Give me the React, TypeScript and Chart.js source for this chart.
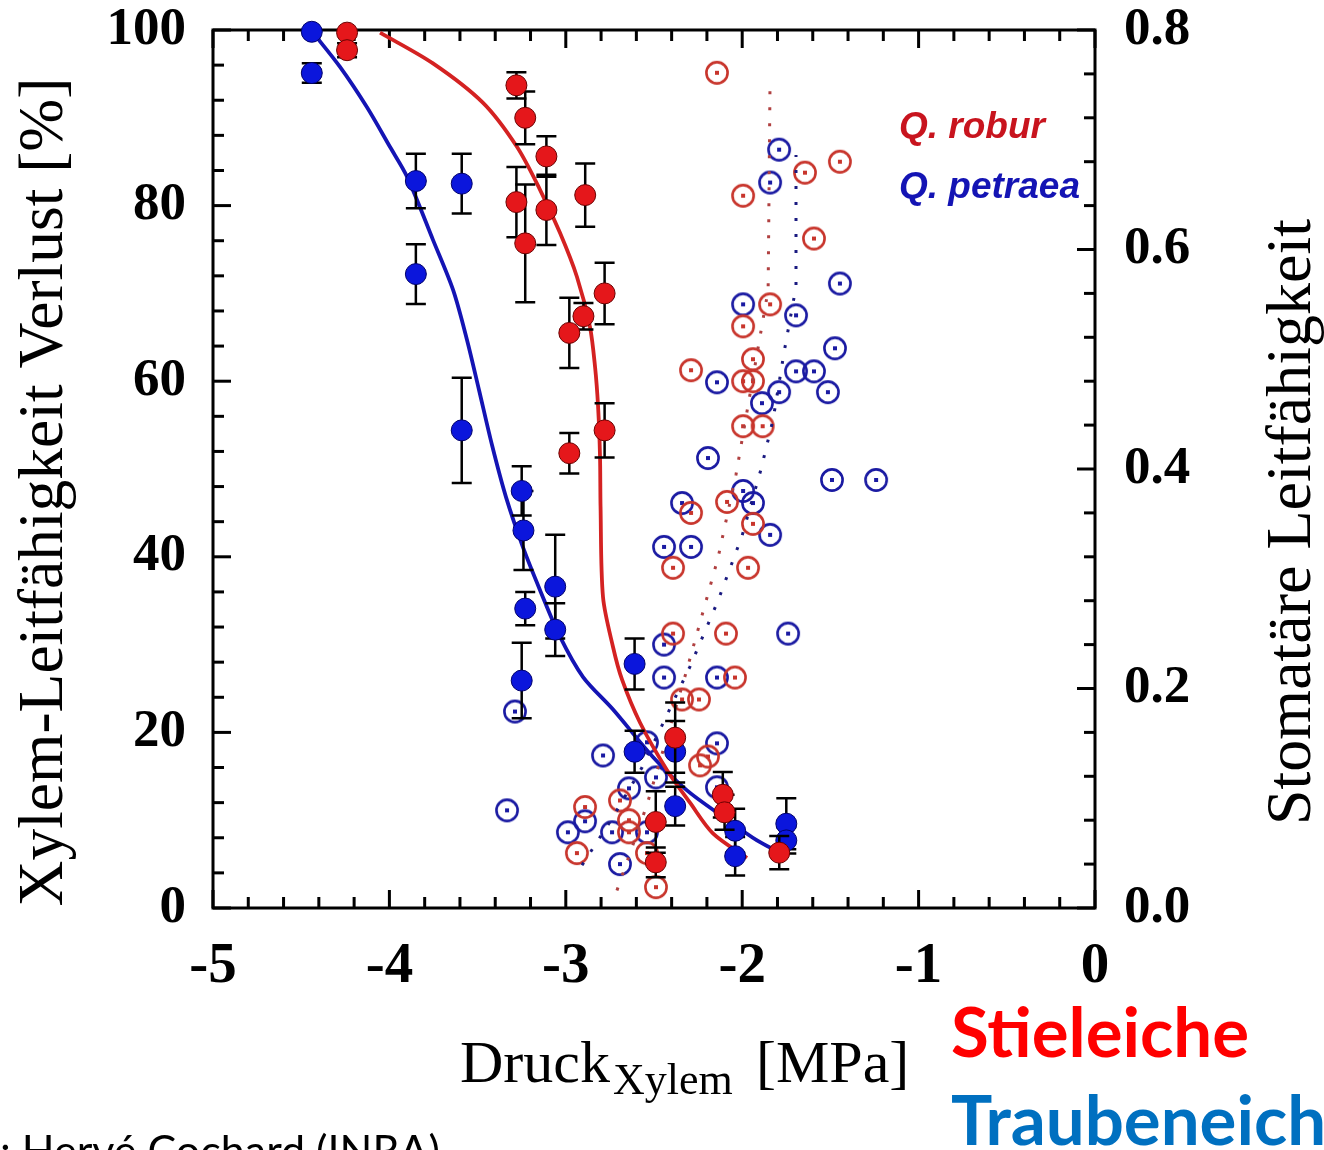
import React, { useEffect, useRef } from "react";
import { Chart, registerables } from "chart.js";

Chart.register(...registerables);

// ---------- Data ----------
// Xylem pressure (MPa) and loss of xylem conductivity (%), with error (±%)
const roburPlcX = [-4.24, -4.24, -3.28, -3.23, -3.11, -3.28, -2.89, -3.11, -3.23, -2.78, -2.9, -2.98, -2.78, -2.98, -2.38, -2.49, -2.49, -2.11, -2.1, -1.79];
const roburPlcY = [99.7, 97.7, 93.7, 90.0, 85.6, 80.4, 81.2, 79.5, 75.7, 70.0, 67.4, 65.5, 54.4, 51.8, 19.4, 9.8, 5.2, 12.9, 10.9, 6.3];
const roburPlcErr = [0, 0.8, 1.5, 3.0, 2.3, 4.0, 3.6, 4.0, 6.7, 3.5, 1.5, 4.0, 3.1, 2.3, 4.0, 3.5, 1.7, 2.6, 2.0, 1.9];

const petraeaPlcX = [-4.44, -4.44, -3.85, -3.59, -3.85, -3.59, -3.25, -3.24, -3.23, -3.25, -3.06, -3.06, -2.61, -2.61, -2.38, -2.38, -2.04, -2.04, -1.75, -1.75];
const petraeaPlcY = [99.8, 95.1, 82.8, 82.5, 72.2, 54.4, 47.5, 43.0, 34.1, 25.9, 36.6, 31.7, 27.8, 17.8, 17.8, 11.6, 8.8, 5.9, 9.6, 7.7];
const petraeaPlcErr = [0, 1.1, 3.1, 3.4, 3.4, 6.0, 2.8, 4.5, 1.9, 4.3, 5.9, 3.0, 2.9, 2.4, 3.5, 2.2, 2.5, 2.2, 2.9, 1.5];

// Fitted vulnerability curves (%)
const roburFitX = [-4.053, -3.753, -3.469, -3.277, -3.146, -3.033, -2.937, -2.863, -2.834, -2.817, -2.806, -2.803, -2.789, -2.732, -2.681, -2.579, -2.426, -2.296, -2.166, -1.973];
const roburFitY = [99.7, 96.2, 91.7, 86.7, 81.8, 76.9, 71.9, 66.2, 61.6, 57.1, 51.4, 45.7, 35.4, 29.7, 26.0, 21.1, 15.7, 12.0, 8.5, 5.7];
const petraeaFitX = [-4.433, -4.28, -4.127, -3.997, -3.9, -3.753, -3.639, -3.56, -3.492, -3.418, -3.339, -3.243, -3.146, -3.033, -2.902, -2.732, -2.506, -2.313, -2.109, -1.916, -1.786];
const petraeaFitY = [99.7, 95.8, 91.2, 86.7, 83.3, 76.1, 70.4, 64.7, 59.0, 52.7, 46.8, 41.1, 36.2, 30.9, 26.3, 22.6, 17.2, 13.4, 10.4, 7.7, 6.3];

// Stomatal conductance (right axis)
const roburGsX = [-2.143, -1.995, -1.644, -1.446, -1.593, -1.842, -1.995, -2.29, -1.939, -1.995, -1.939, -1.995, -1.884, -2.086, -2.29, -1.939, -2.392, -1.967, -2.392, -2.092, -2.041, -2.341, -2.245, -2.194, -2.239, -2.891, -2.693, -2.642, -2.642, -2.937, -2.54, -2.489];
const roburGsY = [0.761, 0.649, 0.67, 0.68, 0.61, 0.55, 0.53, 0.49, 0.5, 0.48, 0.48, 0.439, 0.439, 0.37, 0.36, 0.35, 0.31, 0.31, 0.25, 0.25, 0.21, 0.19, 0.19, 0.138, 0.13, 0.092, 0.098, 0.08, 0.069, 0.05, 0.05, 0.019];
const petraeaGsX = [-1.791, -1.842, -1.446, -1.995, -1.695, -1.474, -1.695, -1.593, -1.514, -1.791, -1.888, -2.143, -2.194, -1.491, -1.241, -1.995, -1.939, -2.341, -1.842, -2.443, -2.29, -1.74, -2.443, -2.443, -2.143, -3.288, -2.789, -2.143, -2.54, -2.489, -2.642, -2.143, -3.333, -2.891, -2.988, -2.738, -2.54, -2.693];
const petraeaGsY = [0.691, 0.661, 0.569, 0.55, 0.54, 0.51, 0.489, 0.489, 0.47, 0.47, 0.46, 0.479, 0.41, 0.39, 0.39, 0.38, 0.369, 0.369, 0.34, 0.329, 0.329, 0.25, 0.24, 0.21, 0.21, 0.179, 0.139, 0.15, 0.151, 0.119, 0.109, 0.11, 0.089, 0.079, 0.069, 0.069, 0.069, 0.04];

// Dotted conductance trend lines
const roburGsLineX = [-2.71, -2.54, -2.319, -2.137, -2.035, -1.905, -1.853, -1.842];
const roburGsLineY = [0.016, 0.094, 0.214, 0.319, 0.395, 0.515, 0.563, 0.756];
const petraeaGsLineX = [-2.908, -2.732, -2.568, -2.296, -2.137, -2.001, -1.893, -1.825, -1.763, -1.695, -1.695];
const petraeaGsLineY = [0.039, 0.083, 0.128, 0.22, 0.28, 0.339, 0.4, 0.445, 0.506, 0.566, 0.686];

// Axis ranges and labels
const xMin = -5, xMax = 0, xStep = 1, xMinorDiv = 5;
const yMin = 0, yMax = 100, yStep = 20, yMinorDiv = 5;
const y2Min = 0, y2Max = 0.8, y2Step = 0.2, y2MinorDiv = 5;
const yTitle = "Xylem-Leitfähigkeit Verlust [%]";
const y2Title = "Stomatäre Leitfähigkeit";
const xTitleMain = "Druck";
const xTitleSub = "Xylem";
const xTitleUnit = "[MPa]";
const legendRobur = "Q. robur";
const legendPetraea = "Q. petraea";
const noteRobur = "Stieleiche";
const notePetraea = "Traubeneich";
const credit = ": Hervé Cochard (INRA)";

// ---------- Styles ----------
const RED_FILL = "#e5171b";
const BLUE_FILL = "#0b16dc";
const RED_LINE = "#d42222";
const BLUE_LINE = "#1414b4";
const RED_RING = "#c8352c";
const BLUE_RING = "#1a1aa2";
const SERIF = '"Liberation Serif", "Times New Roman", serif';

const pts = (xs: number[], ys: number[]) => xs.map((x, i) => ({ x, y: ys[i] }));

function ringImage(color: string): HTMLCanvasElement {
  const c = document.createElement("canvas");
  c.width = 28;
  c.height = 28;
  const g = c.getContext("2d")!;
  g.strokeStyle = color;
  g.lineWidth = 2.6;
  g.beginPath();
  g.arc(14, 14, 10.6, 0, Math.PI * 2);
  g.stroke();
  g.fillStyle = color;
  g.fillRect(12, 12, 4, 4);
  return c;
}

const errMap: Record<number, number[]> = {};

const errorBarPlugin = {
  id: "errorBars",
  beforeDatasetDraw(chart: any, args: any) {
    const errs = errMap[args.index];
    if (!errs) return;
    const meta = chart.getDatasetMeta(args.index);
    const ys = chart.scales.y;
    const ctx = chart.ctx;
    ctx.save();
    ctx.strokeStyle = "#000";
    ctx.lineWidth = 2.5;
    meta.data.forEach((el: any, i: number) => {
      const e = errs[i];
      if (!e) return;
      const raw = chart.data.datasets[args.index].data[i];
      const top = ys.getPixelForValue(raw.y + e);
      const bot = ys.getPixelForValue(raw.y - e);
      const x = el.x;
      ctx.beginPath();
      ctx.moveTo(x, top);
      ctx.lineTo(x, bot);
      ctx.moveTo(x - 10, top);
      ctx.lineTo(x + 10, top);
      ctx.moveTo(x - 10, bot);
      ctx.lineTo(x + 10, bot);
      ctx.stroke();
    });
    ctx.restore();
  },
};

const frameTickPlugin = {
  id: "frameTicks",
  beforeDatasetsDraw(chart: any) {
    const { ctx, chartArea: a, scales } = chart;
    ctx.save();
    ctx.strokeStyle = "#000";
    ctx.lineWidth = 3;
    ctx.strokeRect(a.left, a.top, a.right - a.left, a.bottom - a.top);
    const major = 18, minor = 11;
    const nx = ((xMax - xMin) / xStep) * xMinorDiv;
    for (let i = 0; i <= nx; i++) {
      const v = xMin + (i * xStep) / xMinorDiv;
      const p = scales.x.getPixelForValue(v);
      const L = i % xMinorDiv === 0 ? major : minor;
      ctx.beginPath();
      ctx.moveTo(p, a.bottom);
      ctx.lineTo(p, a.bottom - L);
      ctx.moveTo(p, a.top);
      ctx.lineTo(p, a.top + L);
      ctx.stroke();
    }
    const ny = ((yMax - yMin) / yStep) * yMinorDiv;
    for (let i = 0; i <= ny; i++) {
      const v = yMin + (i * yStep) / yMinorDiv;
      const p = scales.y.getPixelForValue(v);
      const L = i % yMinorDiv === 0 ? major : minor;
      ctx.beginPath();
      ctx.moveTo(a.left, p);
      ctx.lineTo(a.left + L, p);
      ctx.stroke();
    }
    const ny2 = Math.round(((y2Max - y2Min) / y2Step) * y2MinorDiv);
    for (let i = 0; i <= ny2; i++) {
      const v = y2Min + (i * y2Step) / y2MinorDiv;
      const p = scales.y2.getPixelForValue(v);
      const L = i % y2MinorDiv === 0 ? major : minor;
      ctx.beginPath();
      ctx.moveTo(a.right, p);
      ctx.lineTo(a.right - L, p);
      ctx.stroke();
    }
    ctx.restore();
  },
};

const textPlugin = {
  id: "texts",
  afterDraw(chart: any) {
    const ctx = chart.ctx;
    ctx.save();
    ctx.fillStyle = "#000";
    ctx.textBaseline = "alphabetic";
    // left axis title (bottom-to-top)
    ctx.save();
    ctx.font = `63.5px ${SERIF}`;
    ctx.translate(62, 492);
    ctx.rotate(-Math.PI / 2);
    ctx.textAlign = "center";
    ctx.fillText(yTitle, 0, 0);
    ctx.restore();
    // right axis title (bottom-to-top)
    ctx.save();
    ctx.font = `64px ${SERIF}`;
    ctx.translate(1310, 522);
    ctx.rotate(-Math.PI / 2);
    ctx.textAlign = "center";
    ctx.fillText(y2Title, 0, 0);
    ctx.restore();
    // x axis title with subscript
    ctx.textAlign = "left";
    ctx.font = `60px ${SERIF}`;
    ctx.fillText(xTitleMain, 460, 1082);
    const w1 = ctx.measureText(xTitleMain).width;
    ctx.font = `44px ${SERIF}`;
    ctx.fillText(xTitleSub, 460 + w1 + 3, 1094);
    ctx.font = `60px ${SERIF}`;
    ctx.fillText(xTitleUnit, 756, 1082);
    // legend
    ctx.font = 'italic bold 37px "Liberation Sans", Arial, sans-serif';
    ctx.fillStyle = "#c8141e";
    ctx.fillText(legendRobur, 899, 138);
    ctx.fillStyle = "#1414b4";
    ctx.fillText(legendPetraea, 899, 198);
    // notes
    ctx.font = 'bold 69px Lato, "Open Sans", sans-serif';
    ctx.fillStyle = "#ff0000";
    ctx.fillText(noteRobur, 951, 1057);
    ctx.fillStyle = "#0070c0";
    ctx.fillText(notePetraea, 951, 1145);
    ctx.font = '43px Lato, "Open Sans", sans-serif';
    ctx.fillStyle = "#000";
    ctx.fillText(credit, 0, 1166);
    ctx.restore();
  },
};

export default function App() {
  const ref = useRef<HTMLCanvasElement | null>(null);
  useEffect(() => {
    if (!ref.current) return;
    const fitLine = (xs: number[], ys: number[], color: string) => ({
      type: "line",
      data: pts(xs, ys),
      yAxisID: "y",
      borderColor: color,
      borderWidth: 3.8,
      pointRadius: 0,
      tension: 0.3,
      fill: false,
      order: 1,
      clip: false,
    });
    const datasets: any[] = [
      {
        label: "Q. robur PLC",
        data: pts(roburPlcX, roburPlcY),
        yAxisID: "y",
        pointRadius: 10.5,
        pointBackgroundColor: RED_FILL,
        pointBorderColor: "#6a0000",
        pointBorderWidth: 1,
        showLine: false,
        order: 0,
        clip: false,
      },
      {
        label: "Q. petraea PLC",
        data: pts(petraeaPlcX, petraeaPlcY),
        yAxisID: "y",
        pointRadius: 10.5,
        pointBackgroundColor: BLUE_FILL,
        pointBorderColor: "#00006a",
        pointBorderWidth: 1,
        showLine: false,
        order: 0,
        clip: false,
      },
      { label: "fit robur", ...fitLine(roburFitX, roburFitY, RED_LINE) },
      { label: "fit petraea", ...fitLine(petraeaFitX, petraeaFitY, BLUE_LINE) },
      {
        label: "gs line robur",
        type: "line",
        data: pts(roburGsLineX, roburGsLineY),
        yAxisID: "y2",
        borderColor: "#b04040",
        borderWidth: 3,
        borderDash: [3, 13],
        pointRadius: 0,
        tension: 0,
        fill: false,
        order: 2,
      },
      {
        label: "gs line petraea",
        type: "line",
        data: pts(petraeaGsLineX, petraeaGsLineY),
        yAxisID: "y2",
        borderColor: "#1a1a80",
        borderWidth: 3,
        borderDash: [3, 13],
        pointRadius: 0,
        tension: 0,
        fill: false,
        order: 2,
      },
      {
        label: "gs robur",
        data: pts(roburGsX, roburGsY),
        yAxisID: "y2",
        pointStyle: ringImage(RED_RING),
        pointRadius: 11,
        showLine: false,
        order: 3,
        clip: false,
      },
      {
        label: "gs petraea",
        data: pts(petraeaGsX, petraeaGsY),
        yAxisID: "y2",
        pointStyle: ringImage(BLUE_RING),
        pointRadius: 11,
        showLine: false,
        order: 3,
        clip: false,
      },
    ];
    errMap[0] = roburPlcErr;
    errMap[1] = petraeaPlcErr;

    const tickFont = { family: SERIF, size: 53, weight: "bold" as const, lineHeight: 1.0 };
    const noPad = (s: any) => {
      s.paddingTop = 0;
      s.paddingBottom = 0;
      s.paddingLeft = 0;
      s.paddingRight = 0;
    };
    const chart = new Chart(ref.current, {
      type: "scatter",
      data: { datasets },
      options: {
        animation: false,
        responsive: false,
        events: [],
        layout: { padding: { top: 30, left: 0, right: 0, bottom: 0 } },
        plugins: { legend: { display: false }, tooltip: { enabled: false } },
        scales: {
          x: {
            type: "linear",
            position: "bottom",
            min: xMin,
            max: xMax,
            ticks: {
              stepSize: xStep,
              color: "#000",
              font: { ...tickFont, size: 57 },
              padding: 31,
              maxRotation: 0,
              autoSkip: false,
              callback: (v: any) => String(v),
            },
            grid: { display: false, drawTicks: false },
            border: { display: false },
            afterFit: (s: any) => {
              s.height = 242;
              noPad(s);
            },
          },
          y: {
            type: "linear",
            position: "left",
            min: yMin,
            max: yMax,
            ticks: { stepSize: yStep, color: "#000", font: tickFont, padding: 27, callback: (v: any) => String(v) },
            grid: { display: false, drawTicks: false },
            border: { display: false },
            afterFit: (s: any) => {
              s.width = 213;
              noPad(s);
            },
          },
          y2: {
            type: "linear",
            position: "right",
            min: y2Min,
            max: y2Max,
            ticks: {
              stepSize: y2Step,
              color: "#000",
              font: tickFont,
              padding: 29,
              callback: (v: any) => Number(v).toFixed(1),
            },
            grid: { display: false, drawTicks: false },
            border: { display: false },
            afterFit: (s: any) => {
              s.width = 229;
              noPad(s);
            },
          },
        },
      } as any,
      plugins: [frameTickPlugin, errorBarPlugin, textPlugin],
    });
    return () => chart.destroy();
  }, []);

  return (
    <div style={{ position: "absolute", left: 0, top: 0, width: 1324, height: 1150, background: "#fff", overflow: "hidden" }}>
      <canvas ref={ref} width={1324} height={1150} style={{ display: "block" }} />
    </div>
  );
}
